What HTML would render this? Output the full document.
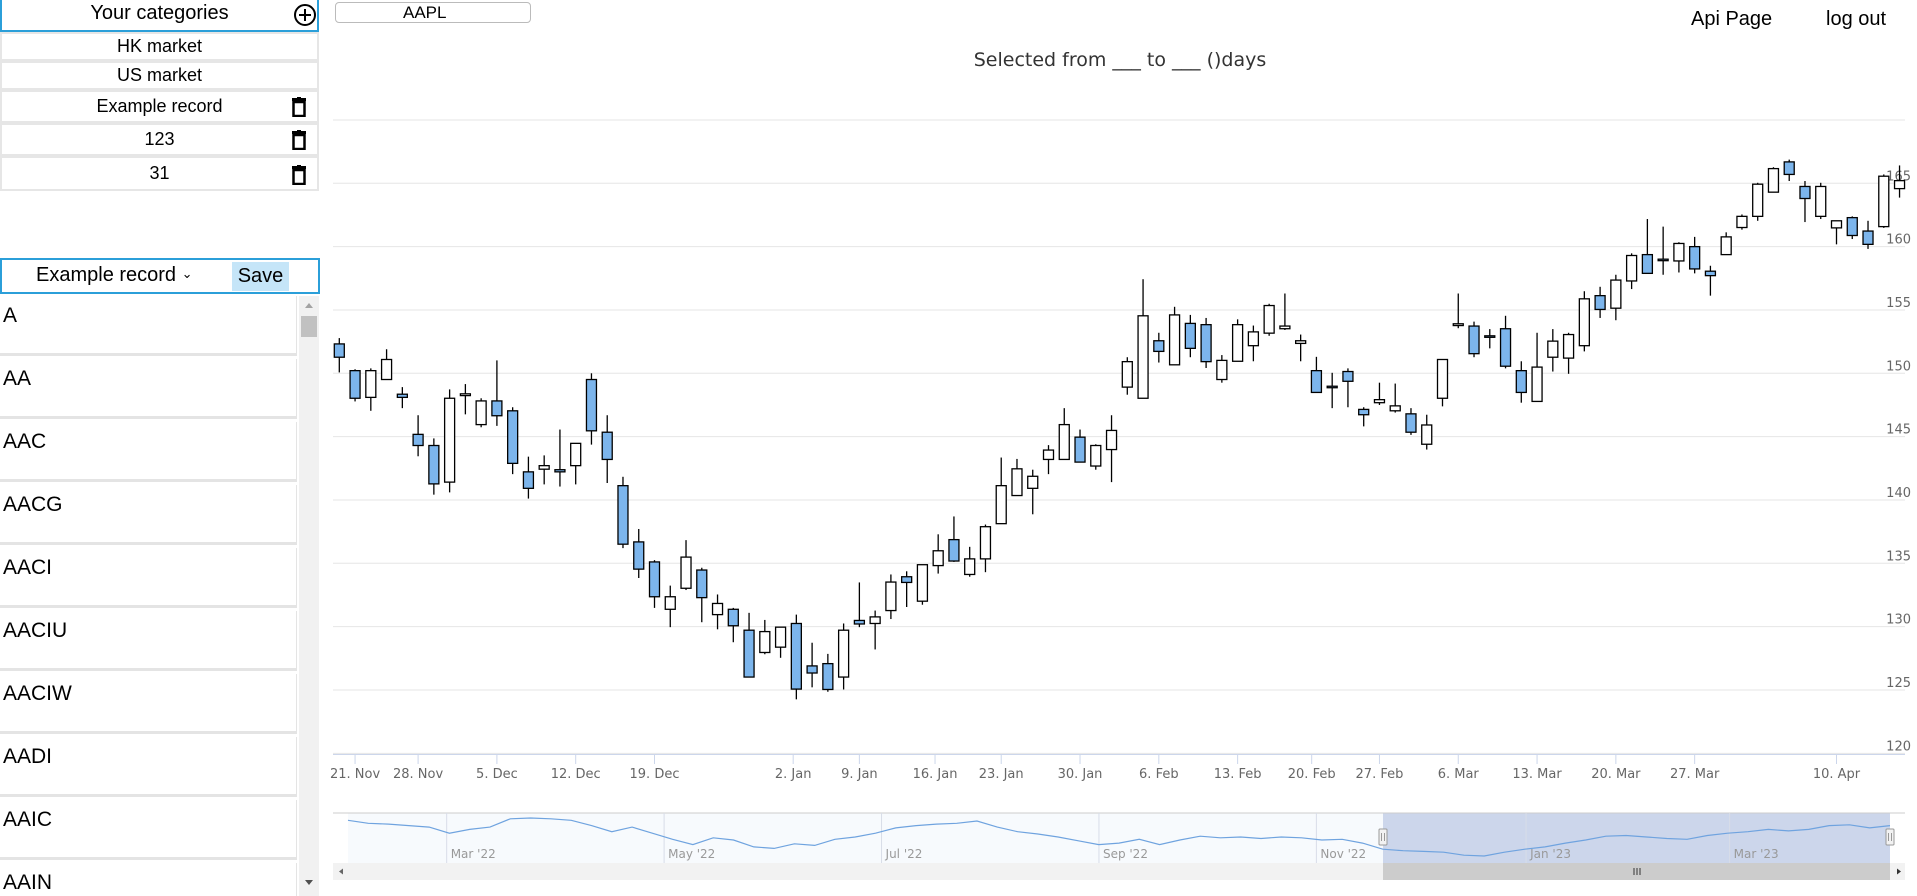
<!DOCTYPE html>
<html><head><meta charset="utf-8">
<style>
*{box-sizing:border-box;margin:0;padding:0}
body{width:1917px;height:896px;overflow:hidden;background:#fff;font-family:"Liberation Sans","DejaVu Sans",sans-serif;position:relative;color:#000}
.abs{position:absolute}
.row{position:absolute;left:0;width:319px;background:#fff;border:2px solid #e6e6e6;font-size:18px;text-align:center}
.trash{position:absolute;right:10px;top:5px;width:16px;height:20px}
.item{position:absolute;left:0;width:297px;height:60px;border-bottom:3px solid #e4e4e4;border-right:1px solid #e4e4e4;font-size:21px;padding:8px 0 0 3px;background:#fff}
</style></head><body>
<div class="abs" style="left:0;top:0;width:319px;height:32px;border:2px solid #2b9fd9;border-top:none;font-size:20px;text-align:center;line-height:26px">Your categories
<svg class="abs" style="left:291px;top:3px" width="24" height="24" viewBox="0 0 24 24"><circle cx="12" cy="12" r="10" fill="none" stroke="#000" stroke-width="2"/><path d="M12 6v12M6 12h12" stroke="#000" stroke-width="2"/></svg></div>
<div class="row" style="top:32px;height:29px;line-height:25px">HK market</div>
<div class="row" style="top:61px;height:29px;line-height:25px">US market</div>
<div class="row" style="top:90px;height:33px;line-height:28px">Example record<svg class="trash" viewBox="0 0 16 20"><rect x="1" y="1" width="14" height="3" fill="#000"/><rect x="6" y="0" width="4" height="2" fill="#000"/><rect x="2.5" y="5" width="11" height="14" fill="none" stroke="#000" stroke-width="2.5"/></svg></div>
<div class="row" style="top:123px;height:33px;line-height:28px">123<svg class="trash" viewBox="0 0 16 20"><rect x="1" y="1" width="14" height="3" fill="#000"/><rect x="6" y="0" width="4" height="2" fill="#000"/><rect x="2.5" y="5" width="11" height="14" fill="none" stroke="#000" stroke-width="2.5"/></svg></div>
<div class="row" style="top:156px;height:35px;line-height:30px">31<svg class="trash" viewBox="0 0 16 20" style="top:7px"><rect x="1" y="1" width="14" height="3" fill="#000"/><rect x="6" y="0" width="4" height="2" fill="#000"/><rect x="2.5" y="5" width="11" height="14" fill="none" stroke="#000" stroke-width="2.5"/></svg></div>

<div class="abs" style="left:0;top:258px;width:320px;height:36px;border:2px solid #2b9fd9">
<div class="abs" style="left:34px;top:4px;font-size:20px">Example record <span style="font-size:13px;position:relative;top:-3px">&#8964;</span></div>
<div class="abs" style="left:230px;top:2px;width:57px;height:29px;background:#c5e5f8;font-size:20px;text-align:center;line-height:28px">Save</div></div>

<div class="abs" style="left:0;top:296px;width:319px;height:600px;overflow:hidden">
<div class="item" style="top:0">A</div>
<div class="item" style="top:63px">AA</div>
<div class="item" style="top:126px">AAC</div>
<div class="item" style="top:189px">AACG</div>
<div class="item" style="top:252px">AACI</div>
<div class="item" style="top:315px">AACIU</div>
<div class="item" style="top:378px">AACIW</div>
<div class="item" style="top:441px">AADI</div>
<div class="item" style="top:504px">AAIC</div>
<div class="item" style="top:567px">AAIN</div>
<div class="abs" style="left:299px;top:0;width:20px;height:600px;background:#f1f1f1">
<div class="abs" style="left:6px;top:7px;border:4px solid transparent;border-bottom:5px solid #a3a3a3;border-top:none"></div>
<div class="abs" style="left:2px;top:20px;width:16px;height:21px;background:#c1c1c1"></div>
<div class="abs" style="left:6px;top:584px;border:4px solid transparent;border-top:5px solid #505050;border-bottom:none"></div></div></div>

<div class="abs" style="left:335px;top:2px;width:196px;height:21px;border:1px solid #bbb;border-radius:4px;font-size:17px;padding-left:67px;line-height:19px">AAPL</div>
<div class="abs" style="left:1691px;top:8px;font-size:20px">Api Page</div>
<div class="abs" style="left:1826px;top:8px;font-size:20px">log out</div>
<div class="abs" style="left:870px;top:49px;width:500px;text-align:center;font-family:'DejaVu Sans',sans-serif;font-size:19px;color:#333">Selected from ___ to ___ ()days</div>

<svg id="chart" class="abs" style="left:0;top:0" width="1917" height="896"></svg>
<script>
const opens=[152.32,150.21,148.10,149.51,148.35,145.18,144.30,141.41,148.24,145.95,147.82,147.04,142.22,142.43,142.39,142.71,149.51,145.35,141.13,136.69,135.11,131.37,133.03,134.47,130.95,131.37,129.72,127.96,128.38,130.25,126.90,127.08,126.02,130.49,130.25,131.27,133.94,132.01,134.82,136.87,134.12,135.35,138.13,140.35,140.92,143.20,143.20,144.96,142.68,143.98,148.91,148.03,152.57,150.67,153.94,153.84,149.51,150.95,152.18,153.17,153.52,152.36,150.21,148.98,150.14,147.15,147.68,147.04,146.80,144.40,148.03,153.77,153.73,152.96,153.52,150.21,147.78,151.27,151.20,152.18,156.13,155.14,157.29,159.37,159.01,158.87,160.00,158.06,159.37,161.51,162.39,164.30,166.69,164.75,162.39,161.48,162.29,161.23,161.58,164.58];
const highs=[152.78,150.32,150.39,151.90,148.91,146.69,144.86,148.73,149.15,148.03,151.02,147.32,143.42,143.52,145.56,144.47,150.00,146.69,141.83,137.71,135.25,133.24,136.83,134.65,132.54,131.48,131.09,130.53,129.96,130.95,128.73,127.85,130.25,133.49,131.27,134.12,134.37,134.89,137.29,138.70,136.30,138.06,143.35,143.24,142.39,144.33,147.25,145.56,144.40,146.69,151.27,157.43,153.20,155.25,154.61,154.37,151.44,154.26,153.77,155.49,156.30,153.06,151.30,150.04,150.39,147.32,149.26,149.19,147.25,146.73,151.09,156.30,154.08,153.49,154.54,150.95,153.20,153.49,153.20,156.48,156.83,157.78,159.47,162.18,161.58,160.35,160.77,158.49,161.13,162.54,165.04,166.27,166.87,165.18,165.04,162.04,162.39,162.04,165.70,166.41];
const lows=[150.07,147.78,147.04,149.51,147.25,143.45,140.42,140.60,146.76,145.74,145.85,142.04,140.11,141.23,141.06,141.23,144.37,141.34,136.20,133.84,131.48,129.96,132.89,130.35,129.79,128.77,126.02,127.82,127.54,124.26,125.21,124.86,125.04,129.96,128.20,130.60,131.55,131.73,134.19,135.11,133.94,134.30,138.13,140.35,138.87,142.04,143.20,142.99,142.39,141.41,148.31,148.03,150.85,150.67,151.27,150.42,149.26,150.95,150.95,152.96,153.42,150.95,148.49,147.25,147.32,145.81,147.50,146.90,145.14,143.98,147.39,153.56,151.27,151.97,150.39,147.68,147.78,150.14,149.96,151.73,154.37,154.19,156.65,157.89,157.78,157.96,157.89,156.13,159.37,161.34,162.04,164.30,165.18,161.94,162.18,160.18,160.60,159.82,161.48,163.87];
const closes=[151.27,148.03,150.21,151.09,148.10,144.30,141.27,148.03,148.38,147.82,146.65,142.89,140.92,142.71,142.22,144.47,145.46,143.20,136.51,134.54,132.36,132.36,135.49,132.29,131.83,130.07,126.02,129.61,129.96,125.07,126.34,125.04,129.72,130.21,130.77,133.52,133.49,134.89,135.99,135.18,135.35,137.89,141.13,142.46,141.87,143.94,145.95,142.99,144.30,145.49,150.92,154.54,151.73,154.61,151.97,150.92,151.02,153.84,153.27,155.35,153.73,152.57,148.49,148.91,149.37,146.73,147.92,147.43,145.35,145.92,151.09,153.91,151.55,152.85,150.56,148.49,150.49,152.54,153.06,155.88,155.04,157.36,159.30,157.89,158.94,160.25,158.24,157.71,160.77,162.39,164.93,166.16,165.70,163.80,164.75,162.04,160.88,160.18,165.56,165.21];
const yTicks=[120,125,130,135,140,145,150,155,160,165];
const xTickLabels=["21. Nov","28. Nov","5. Dec","12. Dec","19. Dec","2. Jan","9. Jan","16. Jan","23. Jan","30. Jan","6. Feb","13. Feb","20. Feb","27. Feb","6. Mar","13. Mar","20. Mar","27. Mar","10. Apr"];
const xTickIndex=[1,5,10,15,20,28.8,33,37.8,42,47,52,57,61.7,66,71,76,81,86,95];
const navValues=[172,168,167,165,163,155,160,163,174,175,174,172,165,157,163,155,147,140,149,146,137,135,141,139,147,150,155,162,165,167,168,171,163,157,154,150,145,140,142,147,140,146,151,149,150,148,150,149,146,147,142,134,132,131,130,126,125,130,134,137,142,146,151,152,150,148,147,152,155,157,160,158,160,165,166,162,165];
const navLabels=["Mar '22","May '22","Jul '22","Sep '22","Nov '22","Jan '23","Mar '23"];
const navLabelPos=[0.064,0.205,0.346,0.487,0.628,0.764,0.896];

const svg=document.getElementById('chart');
const NS='http://www.w3.org/2000/svg';
function mk(tag,attrs,parent){const e=document.createElementNS(NS,tag);for(const k in attrs)e.setAttribute(k,attrs[k]);(parent||svg).appendChild(e);return e;}
const X0=339.3,DX=15.76,PL=333,PR=1905;
const xs=i=>X0+i*DX;
const ys=v=>183.3+(165-v)*12.667;

for(let v=120;v<=170;v+=5){const g=mk('line',{x1:PL,x2:PR,y1:ys(v),y2:ys(v),stroke:'#e6e6e6','stroke-width':1});

}
yTicks.forEach(v=>{const t=mk('text',{x:1911,y:ys(v)-3,'text-anchor':'end','font-size':13,fill:'#666','font-family':'DejaVu Sans, sans-serif'});t.textContent=v;

});
const ax=mk('line',{x1:PL,x2:PR,y1:754.5,y2:754.5,stroke:'#ccd6eb'});


xTickLabels.forEach((lab,k)=>{const x=xs(xTickIndex[k]);
const tk=mk('line',{x1:x,x2:x,y1:754.5,y2:764,stroke:'#ccd6eb'});


const t=mk('text',{x:x,y:778,'text-anchor':'middle','font-size':13,fill:'#666','font-family':'DejaVu Sans, sans-serif'});t.textContent=lab;

});
opens.forEach((o,i)=>{const c=closes[i],x=xs(i);
const w=mk('line',{x1:x,x2:x,y1:ys(highs[i]),y2:ys(lows[i]),stroke:'#000','stroke-width':1.3});


const top=ys(Math.max(o,c)),bot=ys(Math.min(o,c));
const r=mk('rect',{x:x-5,y:top,width:10,height:Math.max(bot-top,1.5),fill:c<o?'#7cb5ec':'#fff',stroke:'#000','stroke-width':1.3});

});

const NL=348,NR=1890,NT=813,NB=863,SEL0=1383;
const nb=mk('rect',{x:NL,y:NT,width:SEL0-NL,height:NB-NT,fill:'#f7fafd'});


const sel=mk('rect',{x:SEL0,y:NT,width:NR-SEL0,height:NB-NT,fill:'#ccd6eb'});


mk('line',{x1:PL,x2:PR,y1:NT,y2:NT,stroke:'#ccc'});
navLabels.forEach((l,k)=>{const x=NL+navLabelPos[k]*(NR-NL);
const gl=mk('line',{x1:x,x2:x,y1:NT,y2:NB,stroke:'#d8dde8'});


const t=mk('text',{x:x+4,y:858,'font-size':12,fill:'#999','font-family':'DejaVu Sans, sans-serif'});t.textContent=l;

});
const mn=Math.min(...navValues),mxv=Math.max(...navValues);
const nx=i=>NL+i*(NR-NL)/(navValues.length-1);
const ny=v=>856-(v-mn)/(mxv-mn)*38;
const pts=navValues.map((v,i)=>nx(i).toFixed(1)+','+ny(v).toFixed(1)).join(' ');
const nl=mk('polyline',{points:pts,fill:'none',stroke:'#6fa3df','stroke-width':1.2});


[SEL0,NR].forEach(x=>{const h=mk('rect',{x:x-4,y:829,width:8,height:16,fill:'#f2f2f2',stroke:'#999',rx:1});


mk('path',{d:`M${x-1.5} 833v8M${x+1.5} 833v8`,stroke:'#999'});});
const st=mk('rect',{x:PL,y:NB,width:PR-PL,height:17,fill:'#f2f2f2'});


const sth=mk('rect',{x:SEL0,y:NB,width:NR-SEL0,height:17,fill:'#cccccc'});


mk('path',{d:`M1634 868v7M1637 868v7M1640 868v7`,stroke:'#333'});
mk('path',{d:`M${PL+6} 871.5l4-3v6z`,fill:'#666'});
mk('path',{d:`M${PR-8} 868.5l4 3l-4 3z`,fill:'#333'});
</script>
</body></html>
